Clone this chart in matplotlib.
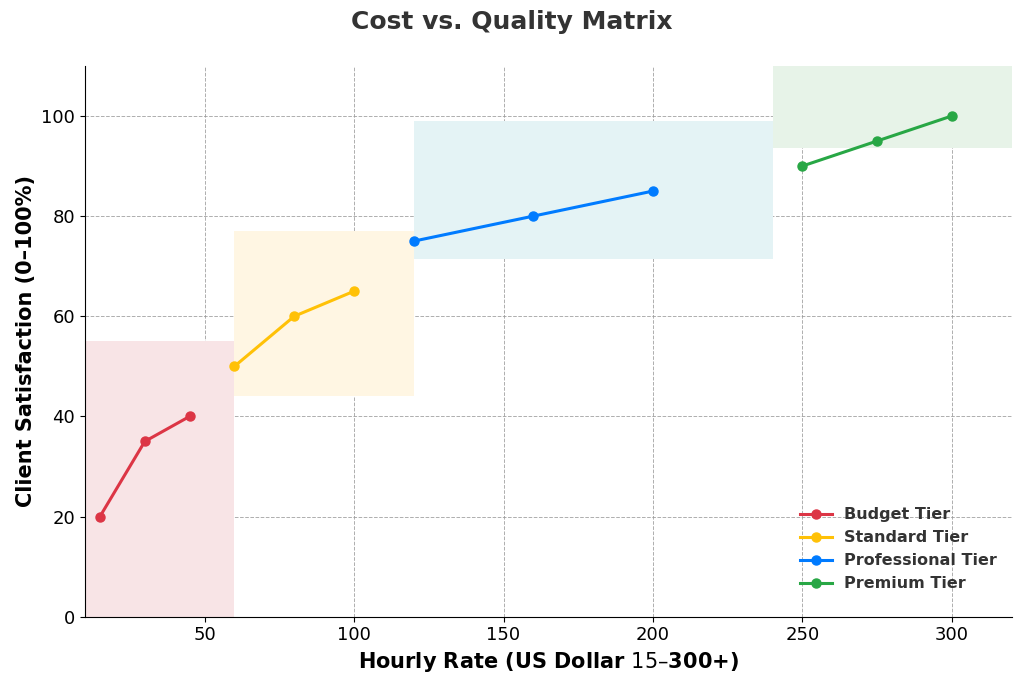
import matplotlib
matplotlib.use("Agg")
import matplotlib.pyplot as plt

tiers = ["Budget Tier", "Standard Tier", "Professional Tier", "Premium Tier"]
colors = ["#dc3545", "#ffc107", "#007bff", "#28a745"]
zone_colors = ["#f8e4e6", "#fff6e3", "#e4f3f5", "#e7f3e8"]
rates = [[15, 30, 45], [60, 80, 100], [120, 160, 200], [250, 275, 300]]
satisfaction = [[20, 35, 40], [50, 60, 65], [75, 80, 85], [90, 95, 100]]
zones_x = [(10, 60), (60, 120), (120, 240), (240, 320)]
zones_y = [(0, 55), (44, 77), (71.5, 99), (93.5, 110)]

fig = plt.figure(figsize=(10.24, 6.86), dpi=100)
ax = fig.add_axes([0.083, 0.101, 0.905, 0.803])
for (x0, x1), (y0, y1), c in zip(zones_x, zones_y, zone_colors):
    ax.axvspan(x0, x1, ymin=y0/110, ymax=y1/110, color=c, lw=0)
for name, c, xs, ys in zip(tiers, colors, rates, satisfaction):
    ax.plot(xs, ys, marker="o", color=c, lw=2.2, ms=6.5, label=name)
ax.set_xlim(10, 320)
ax.set_ylim(0, 110)
ax.set_xticks([50, 100, 150, 200, 250, 300])
ax.set_yticks([0, 20, 40, 60, 80, 100])
ax.tick_params(labelsize=13)
ax.grid(True, ls="--", lw=0.7, color="#999999", alpha=0.8)
ax.set_axisbelow(True)
for s in ["top", "right"]:
    ax.spines[s].set_visible(False)
ax.set_xlabel("Hourly Rate (US Dollar $15–$300+)", fontsize=15, fontweight="bold")
ax.set_ylabel("Client Satisfaction (0–100%)", fontsize=15, fontweight="bold")
fig.suptitle("Cost vs. Quality Matrix", fontsize=18, fontweight="bold", color="#333333", y=0.985)
leg = ax.legend(loc="lower right", frameon=False, prop={"weight": "bold", "size": 11.5},
                bbox_to_anchor=(1.0, 0.02))
for t in leg.get_texts():
    t.set_color("#333333")
fig.savefig("out.png", dpi=100)
